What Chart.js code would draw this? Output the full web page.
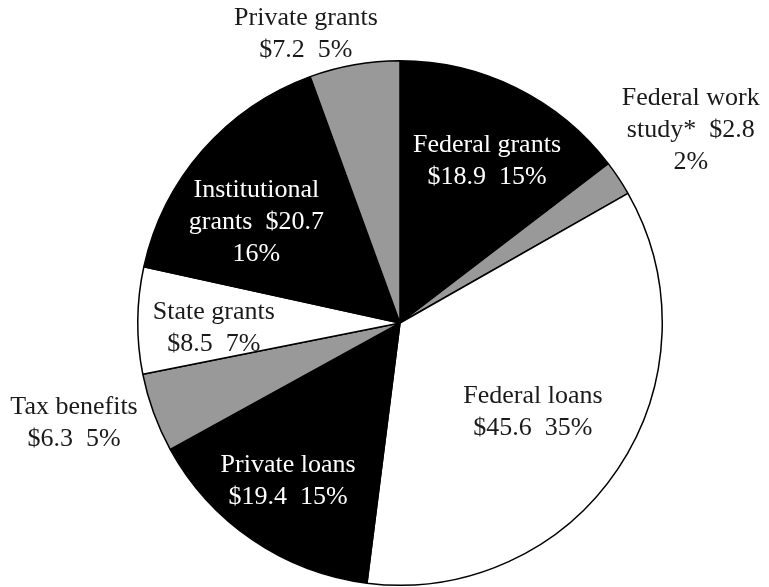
<!DOCTYPE html>
<html>
<head>
<meta charset="utf-8">
<script src="https://cdn.jsdelivr.net/npm/chart.js@4/dist/chart.umd.min.js"></script>
<style>
  html, body { margin: 0; padding: 0; background: #fff; }
  #wrap { width: 769px; height: 587px; position: relative; }
</style>
</head>
<body>
<div id="wrap"><canvas id="pie-chart"></canvas></div>
<script>
// 資料 (十億美元)
var categories = ['Federal grants', 'Federal work study*', 'Federal loans', 'Private loans',
  'Tax benefits', 'State grants', 'Institutional grants', 'Private grants'];
var amounts = [18.9, 2.8, 45.6, 19.4, 6.3, 8.5, 20.7, 7.2];
var percents = [15, 2, 35, 15, 5, 7, 16, 5];
// 標籤的文字換行
var labelLines = [
  ['Federal grants', '$18.9  15%'],
  ['Federal work', 'study*  $2.8', '2%'],
  ['Federal loans', '$45.6  35%'],
  ['Private loans', '$19.4  15%'],
  ['Tax benefits', '$6.3  5%'],
  ['State grants', '$8.5  7%'],
  ['Institutional', 'grants  $20.7', '16%'],
  ['Private grants', '$7.2  5%']
];

// 顏色與標籤位置
var sliceColors = ['#000', '#999', '#fff', '#000', '#999', '#fff', '#000', '#999'];
var textColors = ['#fff', '#1a1a1a', '#1a1a1a', '#fff', '#1a1a1a', '#1a1a1a', '#fff', '#1a1a1a'];
var labelRadius = [0.70, 1.33, 0.61, 0.74, 1.30, 0.71, 0.67, 1.16];
var labelShift = [2, 0, 0, 1, 3, -2, -6, -8]; // degrees

var labelPlugin = {
  id: 'sliceLabels',
  afterDraw: function (chart) {
    var ctx = chart.ctx;
    var meta = chart.getDatasetMeta(0);
    ctx.save();
    ctx.font = '26px "Liberation Serif", "Times New Roman", serif';
    ctx.textAlign = 'center';
    ctx.textBaseline = 'middle';
    meta.data.forEach(function (arc, i) {
      var mid = (arc.startAngle + arc.endAngle) / 2 + labelShift[i] * Math.PI / 180;
      var r = arc.outerRadius * labelRadius[i];
      var x = arc.x + Math.cos(mid) * r;
      var y = arc.y + Math.sin(mid) * r;
      var lines = labelLines[i];
      var lh = 32;
      ctx.fillStyle = textColors[i];
      lines.forEach(function (t, k) {
        ctx.fillText(t, x, y + (k - (lines.length - 1) / 2) * lh);
      });
    });
    ctx.restore();
  }
};

var ctx = document.getElementById('pie-chart').getContext('2d');
var myChart = new Chart(ctx, {
  type: 'pie',
  data: {
    labels: categories,
    datasets: [{
      data: amounts,
      backgroundColor: sliceColors,
      borderColor: '#000',
      borderWidth: 1.5
    }]
  },
  options: {
    responsive: true,
    maintainAspectRatio: false,
    animation: false,
    layout: { padding: { top: 60, bottom: 1, left: 137, right: 106 } },
    plugins: {
      legend: { display: false },
      tooltip: { enabled: false }
    }
  },
  plugins: [labelPlugin]
});
</script>
</body>
</html>
